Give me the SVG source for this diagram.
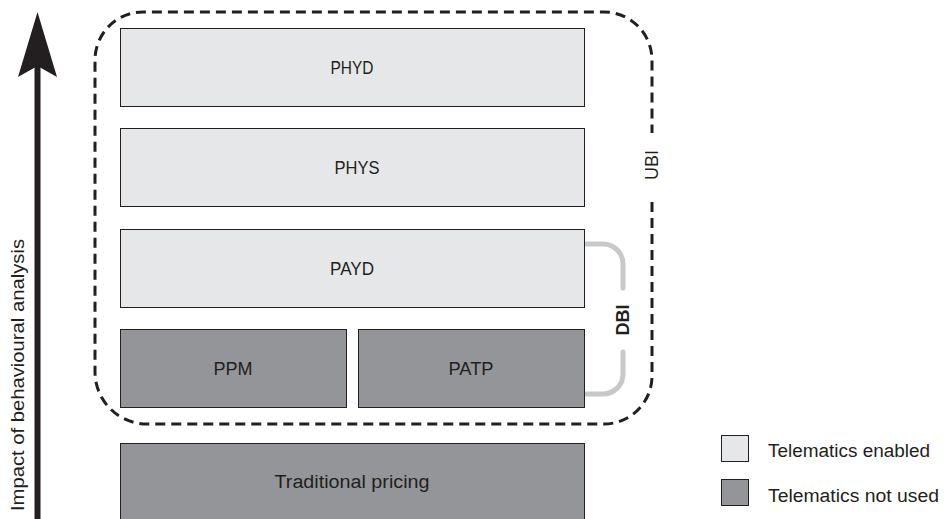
<svg xmlns="http://www.w3.org/2000/svg" width="946" height="519" viewBox="0 0 946 519">
<style>
.lt{fill:#e6e7e8;stroke:#231f20;stroke-width:1}
.dk{fill:#939598;stroke:#231f20;stroke-width:1}
.t{font-family:"Liberation Sans",Arial,sans-serif;font-size:18px;fill:#231f20;text-anchor:middle}
.lg{font-family:"Liberation Sans",Arial,sans-serif;font-size:18px;fill:#231f20}
.dash{fill:none;stroke:#231f20;stroke-width:3;stroke-dasharray:10 6}
.br{fill:none;stroke:#c7c8ca;stroke-width:5;stroke-linecap:round}
</style>
<rect width="946" height="519" fill="#ffffff"/>
<g id="axis">
<rect x="34.5" y="64" width="6" height="460" fill="#231f20"/>
<polygon points="37.5,12 57,77 37.5,66 18,77" fill="#231f20"/>
<text class="lg" transform="translate(24,375) rotate(-90)" text-anchor="middle" font-size="19" textLength="272" lengthAdjust="spacingAndGlyphs">Impact of behavioural analysis</text>
</g>
<g id="connectors">
<path class="dash" d="M652,202 V376 A48,48 0 0 1 604,424 H147 A52,52 0 0 1 95,372 V60 A48,48 0 0 1 143,12 H604 A48,48 0 0 1 652,60 V133"/>
<path class="br" d="M586,244 H603 A20,20 0 0 1 623,264 V288"/>
<path class="br" d="M623,352 V374 A20,20 0 0 1 603,394 H586"/>
</g>
<g id="UBI"><text class="t" transform="translate(658,165) rotate(-90)" font-size="17">UBI</text></g>
<g id="DBI"><text class="t" transform="translate(629,320) rotate(-90)" font-weight="bold" font-size="16">DBI</text></g>
<g id="PHYD"><rect class="lt" x="120.5" y="28.5" width="464" height="78"/><text class="t" x="352" y="74" textLength="43" lengthAdjust="spacingAndGlyphs">PHYD</text></g>
<g id="PHYS"><rect class="lt" x="120.5" y="128.5" width="464" height="78"/><text class="t" x="357" y="174" textLength="45" lengthAdjust="spacingAndGlyphs">PHYS</text></g>
<g id="PAYD"><rect class="lt" x="120.5" y="229.5" width="464" height="78"/><text class="t" x="352" y="275" textLength="44" lengthAdjust="spacingAndGlyphs">PAYD</text></g>
<g id="PPM"><rect class="dk" x="120.5" y="329.5" width="226" height="78"/><text class="t" x="233" y="375" textLength="39" lengthAdjust="spacingAndGlyphs">PPM</text></g>
<g id="PATP"><rect class="dk" x="358.5" y="329.5" width="226" height="78"/><text class="t" x="471" y="375" textLength="45" lengthAdjust="spacingAndGlyphs">PATP</text></g>
<g id="traditional"><rect class="dk" x="120.5" y="443.5" width="464" height="80"/><text class="t" x="352" y="488" textLength="155" lengthAdjust="spacingAndGlyphs">Traditional pricing</text></g>
<g id="legend">
<rect class="lt" x="721.5" y="435.5" width="27" height="26"/>
<text class="lg" x="768" y="457" textLength="162" lengthAdjust="spacingAndGlyphs">Telematics enabled</text>
<rect class="dk" x="721.5" y="479.5" width="27" height="26"/>
<text class="lg" x="768" y="502" textLength="171" lengthAdjust="spacingAndGlyphs">Telematics not used</text>
</g>
</svg>
